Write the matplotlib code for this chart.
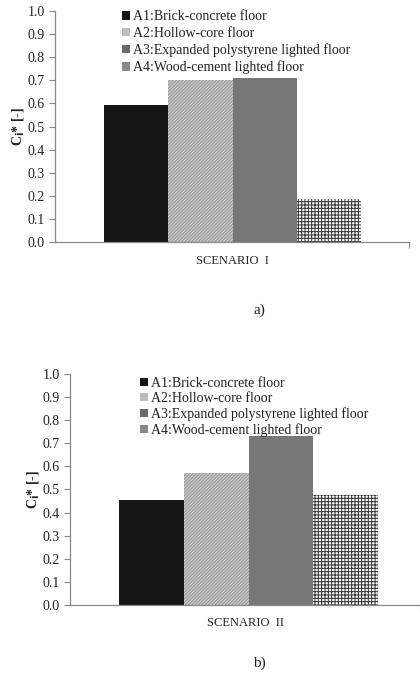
import numpy as np
import matplotlib
matplotlib.use("Agg")
import matplotlib.pyplot as plt
from matplotlib.patches import Patch

plt.rcParams['font.family'] = ['Liberation Serif', 'DejaVu Serif']
plt.rcParams['hatch.linewidth'] = 0.75

# data
labels = ["A1:Brick-concrete floor", "A2:Hollow-core floor",
          "A3:Expanded polystyrene lighted floor", "A4:Wood-cement lighted floor"]
scenario_1 = [0.593, 0.70, 0.71, 0.186]
scenario_2 = [0.455, 0.571, 0.731, 0.476]
y_ticks = np.round(np.arange(0, 1.01, 0.1), 1)

bar_face = ['#151515', '#c8c8c8', '#777777', 'white']
bar_hatch = [None, '//////////', None, '+++++']
bar_hatch_col = ['#151515', '#999999', '#777777', '#3a3a3a']
legend_col = ['#151515', '#bdbdbd', '#6a6a6a', '#8a8a8a']

fig = plt.figure(figsize=(4.2, 6.77), dpi=100)


def draw_panel(rect, values, xlabel, tag, tag_y, xlim, leg_anchor, leg_spacing):
    ax = fig.add_axes(rect)
    x = np.arange(len(values))
    for i, v in enumerate(values):
        ax.bar(x[i], v, width=1.0, color=bar_face[i], hatch=bar_hatch[i],
               edgecolor=bar_hatch_col[i], linewidth=0)
    ax.set_xlim(*xlim)
    ax.set_ylim(0, 1.0)
    ax.set_yticks(y_ticks)
    ax.set_yticklabels([f"{t:.1f}" for t in y_ticks], fontsize=10, color='#222222')
    ax.set_xticks([xlim[1]])
    ax.set_xticklabels([])
    ax.tick_params(axis='both', direction='out', length=4, width=0.8, color='#888888')
    for s in ['top', 'right']:
        ax.spines[s].set_visible(False)
    for s in ['left', 'bottom']:
        ax.spines[s].set_color('#888888')
        ax.spines[s].set_linewidth(0.9)
    ax.set_xlabel(xlabel, fontsize=9, color='#222222', labelpad=1.5)
    ax.set_ylabel("C$_\\mathbf{i}$* [-]", fontsize=10, fontweight='bold', color='#222222', labelpad=1)
    handles = [Patch(facecolor=c, edgecolor='none') for c in legend_col]
    ax.legend(handles, labels, loc='upper left', bbox_to_anchor=leg_anchor,
              frameon=False, fontsize=10, handlelength=0.55, handleheight=0.55,
              handletextpad=0.25, labelspacing=leg_spacing, borderpad=0,
              borderaxespad=0, labelcolor='#222222')
    fig.text(0.617, tag_y, tag, fontsize=11, ha='center', va='center', color='#222222')
    return ax


draw_panel([0.131, 0.6425, 0.843, 0.3412], scenario_1, "SCENARIO  I", "a)", 1 - 310 / 677,
           (-1.262, 4.243), (0.19, 1.003), 0.25)
draw_panel([0.1667, 0.1064, 0.8333, 0.3412], scenario_2, "SCENARIO  II", "b)", 1 - 663 / 677,
           (-1.257, 4.149), (0.20, 0.987), 0.15)

fig.savefig("out.png", dpi=100)
